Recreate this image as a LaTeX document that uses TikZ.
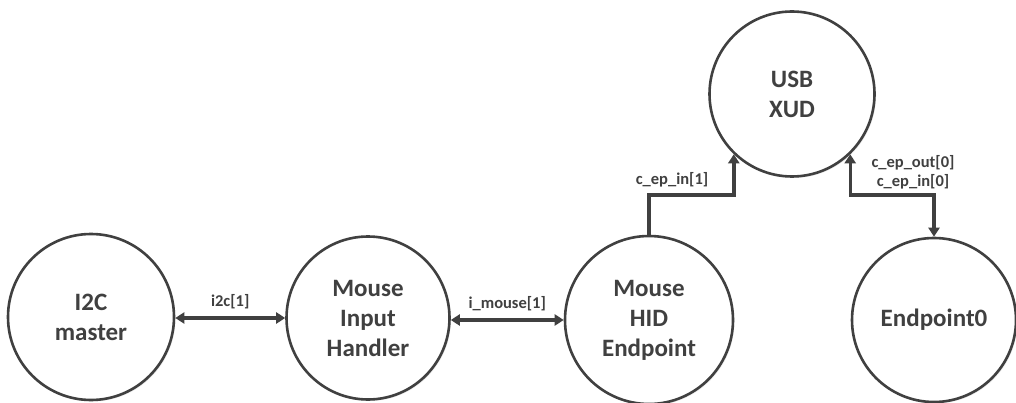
\documentclass[tikz,border=0pt]{standalone}
\usepackage{fontspec}
\setmainfont{Carlito}
\usetikzlibrary{arrows.meta,shadows}
\definecolor{ink}{HTML}{404040}
\begin{document}
\begin{tikzpicture}[x=1pt,y=-1pt,
  blob/.style={circle,draw=ink,line width=2.6pt,fill=white,inner sep=0pt,
    text=ink,align=center,font=\bfseries\fontsize{25}{30}\selectfont,
    drop shadow={opacity=0.15,shadow xshift=1.5pt,shadow yshift=-1.5pt}},
  wire/.style={draw=ink,line width=3.4pt,{Triangle[length=9pt,width=11pt]}-{Triangle[length=9pt,width=11pt]}},
  owire/.style={draw=ink,line width=3.4pt,-{Triangle[length=9pt,width=11pt]}},
  lbl/.style={text=ink,font=\bfseries\fontsize{16.5}{19}\selectfont,inner sep=0pt,align=center}]
\useasboundingbox (0,0) rectangle (1016,403);
\node[blob,minimum size=166pt] (i2c) at (91,317) {I2C\\master};
\node[blob,minimum size=163pt] (mih) at (368,318) {Mouse\\Input\\Handler};
\node[blob,minimum size=168pt] (hid) at (649,320) {Mouse\\HID\\Endpoint};
\node[blob,minimum size=165pt] (usb) at (792,94) {USB\\XUD};
\node[blob,minimum size=164pt] (ep0) at (934,320) {Endpoint0};
\draw[wire] (i2c.east |- 0,318) -- (mih.west |- 0,318) node[lbl,midway,above=7pt] {i2c[1]};
\draw[wire] (mih.east |- 0,320) -- (hid.west |- 0,320) node[lbl,midway,above=7pt] {i\_mouse[1]};
\coordinate (j1) at (690,195);
\coordinate (j2) at (890,195);
\draw[owire] (hid.north) |- (j1) -| (usb.226);
\draw[wire] (usb.314) |- (j2) -| (ep0.north);
\node[lbl] (l1) at (672,180) {c\_ep\_in[1]};
\node[lbl] (l2) at (913,172) {c\_ep\_out[0]\\c\_ep\_in[0]};
\end{tikzpicture}
\end{document}
